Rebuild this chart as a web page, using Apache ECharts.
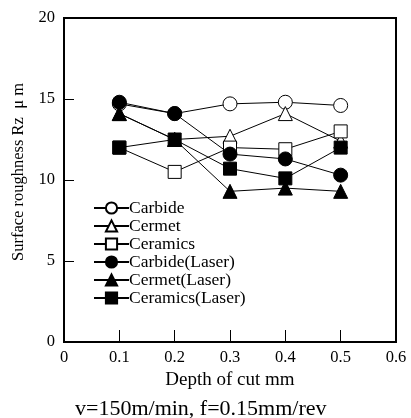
<!DOCTYPE html>
<html>
<head>
<meta charset="utf-8">
<script src="https://cdn.jsdelivr.net/npm/echarts@6/dist/echarts.min.js"></script>
<style>
  html, body { margin: 0; padding: 0; background: #fff; }
  #chart { width: 411px; height: 418px; }
</style>
</head>
<body>
<div id="chart"></div>
<script>
// depth of cut (mm)
const depths = [0.1, 0.2, 0.3, 0.4, 0.5];
// surface roughness Rz (um)
const carbide = [14.7, 14.1, 14.7, 14.8, 14.6];
const cermet = [14.1, 12.5, 12.7, 14.1, 12.4];
const ceramics = [12.0, 10.5, 12.0, 11.9, 13.0];
const carbideLaser = [14.8, 14.1, 11.6, 11.3, 10.3];
const cermetLaser = [14.1, 12.5, 9.3, 9.5, 9.3];
const ceramicsLaser = [12.0, 12.5, 10.7, 10.1, 12.0];
const seriesNames = ["Carbide", "Cermet", "Ceramics", "Carbide(Laser)", "Cermet(Laser)", "Ceramics(Laser)"];

const font = "Liberation Serif";
const chart = echarts.init(document.getElementById("chart"));

function mkSeries(name, vals, symbol, filled) {
  return {
    name: name,
    type: "line",
    data: depths.map((d, i) => [d, vals[i]]),
    symbol: symbol,
    symbolSize: symbol === "rect" ? 13 : 14,
    showAllSymbol: true,
    lineStyle: { color: "#000", width: 1 },
    itemStyle: {
      color: filled ? "#000" : "#fff",
      borderColor: "#000",
      borderWidth: 1,
    },
    z: filled ? 3 : 2,
    animation: false,
  };
}

const option = {
  backgroundColor: "#fff",
  animation: false,
  title: {
    text: "v=150m/min, f=0.15mm/rev",
    left: 70,
    top: 393,
    textStyle: { fontFamily: font, fontSize: 22, fontWeight: "normal", color: "#000" },
  },
  grid: {
    left: 64,
    right: 15,
    top: 18,
    bottom: 76,
    show: true,
    borderColor: "#000",
    borderWidth: 2,
  },
  legend: {
    data: seriesNames,
    orient: "vertical",
    left: 93,
    top: 199,
    padding: 0,
    itemWidth: 35,
    itemHeight: 14,
    itemGap: 0,
    textStyle: { fontFamily: font, fontSize: 17.5, lineHeight: 17.6, color: "#000", padding: [0, 0, 0, -5] },
  },
  xAxis: {
    type: "value",
    min: 0,
    max: 0.6,
    interval: 0.1,
    name: "Depth of cut mm",
    nameLocation: "middle",
    nameGap: 29,
    nameTextStyle: { fontFamily: font, fontSize: 19, color: "#000" },
    axisLine: { lineStyle: { color: "#000", width: 2 } },
    axisTick: { inside: true, length: 12, lineStyle: { color: "#000" } },
    axisLabel: { fontFamily: font, fontSize: 16.5, color: "#000", margin: 7 },
    splitLine: { show: false },
  },
  yAxis: {
    type: "value",
    min: 0,
    max: 20,
    interval: 5,
    name: "Surface roughness Rz  μ m",
    nameLocation: "middle",
    nameGap: 22,
    nameTextStyle: { fontFamily: font, fontSize: 16.5, color: "#000", padding: [0, 0, 0, 16] },
    axisLine: { show: true, lineStyle: { color: "#000", width: 2 } },
    axisTick: { show: true, inside: true, length: 10, lineStyle: { color: "#000" } },
    axisLabel: { fontFamily: font, fontSize: 16.5, color: "#000", margin: 9 },
    splitLine: { show: false },
  },
  series: [
    mkSeries(seriesNames[0], carbide, "circle", false),
    mkSeries(seriesNames[1], cermet, "triangle", false),
    mkSeries(seriesNames[2], ceramics, "rect", false),
    mkSeries(seriesNames[3], carbideLaser, "circle", true),
    mkSeries(seriesNames[4], cermetLaser, "triangle", true),
    mkSeries(seriesNames[5], ceramicsLaser, "rect", true),
  ],
};
chart.setOption(option);
</script>
</body>
</html>
